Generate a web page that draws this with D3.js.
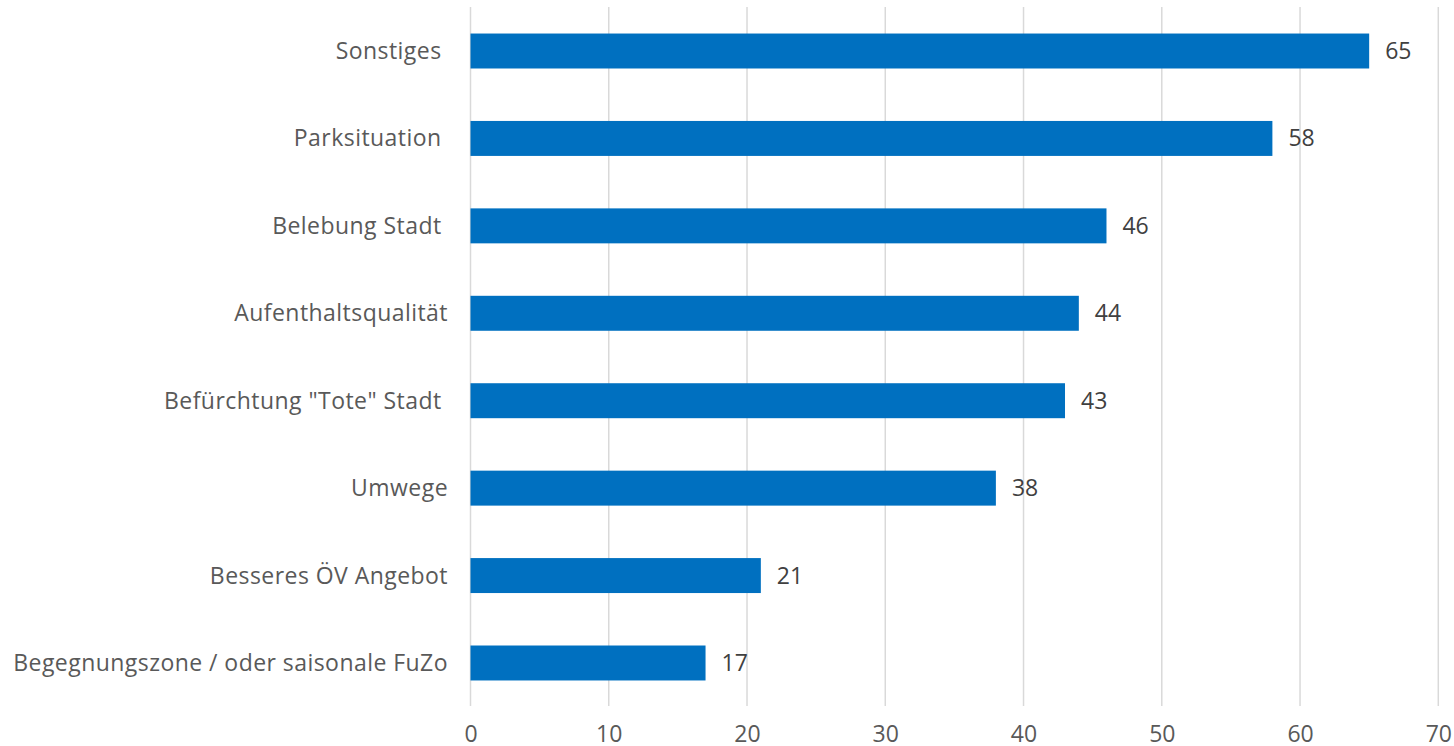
<!DOCTYPE html>
<html>
<head>
<meta charset="utf-8">
<script src="https://cdn.jsdelivr.net/npm/d3@7"></script>
<style>
  body { margin: 0; background: #fff; }
  text { font-family: "Open Sans", sans-serif; }
</style>
</head>
<body>
<svg id="chart" width="1454" height="746"></svg>
<script>
// labels keep trailing spaces like the source sheet
const categories = [
  "Sonstiges ",
  "Parksituation ",
  "Belebung Stadt ",
  "Aufenthaltsqualität",
  "Befürchtung \"Tote\" Stadt ",
  "Umwege",
  "Besseres ÖV Angebot",
  "Begegnungszone / oder saisonale FuZo"
];
const values = [65, 58, 46, 44, 43, 38, 21, 17];
const ticks = [0, 10, 20, 30, 40, 50, 60, 70];

const data = categories.map((c, i) => ({ cat: c, val: values[i] }));

var svg = d3.select("#chart");

var x = d3.scaleLinear().domain([0, 70]).range([470.5, 1438.3]);
var y = d3.scaleBand().domain(categories).range([7.3, 706.7]).paddingInner(0.6).paddingOuter(0.3);

// grid
svg.append("g")
  .selectAll("line")
  .data(ticks)
  .enter()
  .append("line")
  .attr("x1", d => x(d)).attr("x2", d => x(d))
  .attr("y1", 7).attr("y2", 706)
  .attr("stroke", "#d9d9d9")
  .attr("stroke-width", 1.5);

// bars
svg.append("g")
  .selectAll("rect")
  .data(data)
  .enter()
  .append("rect")
  .attr("x", x(0))
  .attr("y", d => y(d.cat))
  .attr("width", d => x(d.val) - x(0))
  .attr("height", y.bandwidth())
  .attr("fill", "#0070c0");

// value labels
svg.append("g")
  .selectAll("text")
  .data(data)
  .enter()
  .append("text")
  .attr("x", d => x(d.val) + 16)
  .attr("y", d => y(d.cat) + y.bandwidth() / 2)
  .attr("dy", "0.35em")
  .attr("font-size", 23)
  .attr("fill", "#404040")
  .text(d => d.val);

// category labels
svg.append("g")
  .selectAll("text")
  .data(data)
  .enter()
  .append("text")
  .attr("x", 448)
  .attr("y", d => y(d.cat) + y.bandwidth() / 2)
  .attr("dy", "0.35em")
  .attr("text-anchor", "end")
  .attr("font-size", 23)
  .attr("letter-spacing", 0.45)
  .attr("fill", "#595959")
  .style("white-space", "pre")
  .text(d => d.cat);

// x axis
var xAxis = svg.append("g")
  .attr("transform", "translate(0,718)")
  .call(d3.axisBottom(x).tickValues(ticks).tickSize(0).tickPadding(8));
xAxis.select(".domain").remove();
xAxis.selectAll("text")
  .attr("font-size", 23)
  .attr("fill", "#595959")
  .style("font-family", "\"Open Sans\", sans-serif");
</script>
</body>
</html>
